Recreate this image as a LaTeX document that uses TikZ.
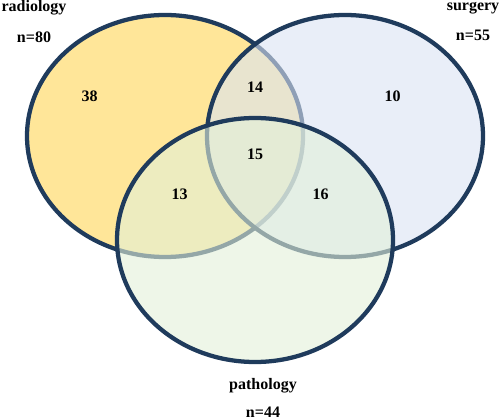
\documentclass[tikz,border=0pt]{standalone}
\usepackage{fontspec}
\setmainfont{Liberation Serif}
\definecolor{rimblue}{HTML}{1F3B5C}
\definecolor{radfill}{HTML}{FFE699}
\definecolor{surfill}{HTML}{DAE3F3}
\definecolor{patfill}{HTML}{E2F0D9}
\begin{document}
\begin{tikzpicture}[x=0.75pt,y=0.75pt,yscale=-1,xscale=1,
    set/.style={draw=rimblue, line width=3.2pt},
    lbl/.style={anchor=base, inner sep=0pt, font=\fontsize{12}{14}\selectfont\bfseries}]
    \useasboundingbox (0,0) rectangle (500,420);
    %Shape: Ellipse radiology
    \draw[set, fill=radfill] (165,136) ellipse [x radius=103.5pt, y radius=90.75pt];
    %Shape: Ellipse surgery
    \draw[set, fill=surfill, fill opacity=0.6] (345,136) ellipse [x radius=103.5pt, y radius=90.75pt];
    %Shape: Ellipse pathology
    \draw[set, fill=patfill, fill opacity=0.6] (255,240) ellipse [x radius=103.5pt, y radius=91.5pt];
    % Text Node
    \node[lbl] (radname) at (34,12) {radiology};
    \node[lbl] (radn) at (34,43) {n=80};
    \node[lbl] (surname) at (473,11) {surgery};
    \node[lbl] (surn) at (473,41) {n=55};
    \node[lbl] (patname) at (263,389) {pathology};
    \node[lbl] (patn) at (263,417.5) {n=44};
    % Counts
    \node[lbl] (radonly) at (89.5,102) {38};
    \node[lbl] (radsur) at (255,93) {14};
    \node[lbl] (suronly) at (392.5,102) {10};
    \node[lbl] (allthree) at (255,160) {15};
    \node[lbl] (radpat) at (179.5,200) {13};
    \node[lbl] (surpat) at (320.5,200) {16};
\end{tikzpicture}
\end{document}
